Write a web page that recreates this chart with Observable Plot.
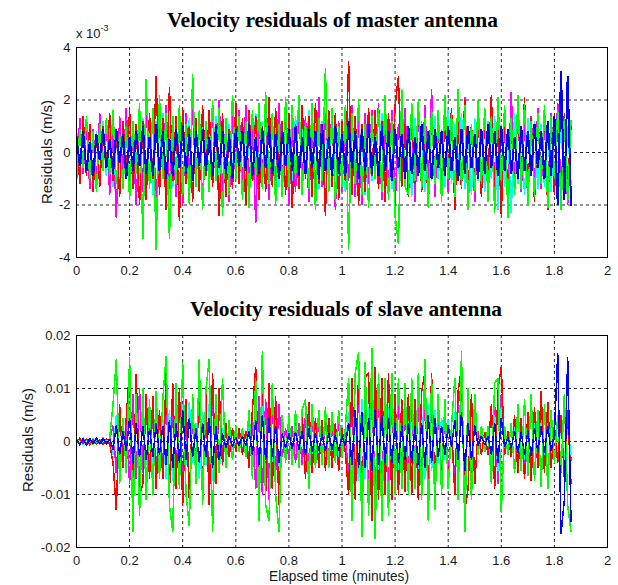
<!DOCTYPE html>
<html>
<head>
<meta charset="utf-8">
<script src="https://cdn.jsdelivr.net/npm/d3@7"></script>
<script src="https://cdn.jsdelivr.net/npm/@observablehq/plot@0.6"></script>
<style>
  html, body { margin: 0; padding: 0; background: #fff; }
  #root { position: relative; width: 618px; height: 585px; overflow: hidden; background: #fff; }
  #root > svg { position: absolute; left: 0; }
  #overlay { position: absolute; left: 0; top: 0; pointer-events: none; }
</style>
</head>
<body>
<div id="root"></div>
<script>
// ---------------- DATA ----------------
// Samples are spaced uniformly in time (minutes).
const sampleStep = 0.0125;

// Master antenna residuals, units of 1e-4 m/s (plotted in units of 1e-3 m/s)
const masterMagenta = [
  -10,13,-8,11,-14,9,-12,15,-7,12,
  -16,10,-25,14,-9,17,-13,8,-20,12,
  -15,19,-11,16,-22,13,-9,18,-14,10,
  -17,12,-20,15,-10,18,-13,16,-21,9,
  -14,17,-11,20,-16,12,-19,14,-10,16,
  -13,18,-15,11,-27,14,-10,17,-18,12,
  -11,19,-14,16,-20,10,-15,18,-12,14,
  -19,11,-16,21,-13,15,-10,17,-22,12,
  -15,14,-11,18,-17,13,-20,15,-12,16,
  -10,19,-18,12,-14,16,-21,11,-13,17,
  -16,13,-19,15,-11,18,-14,24,-17,12,
  -13,20,-15,11,-18,14,-12,21,-16,10,
  -19,15,-11,17,-14,22,-13,16,-20,12,
  -16,23,-12,18,-15,11,-19,14,-13,17,
  -14,12,-18,15,-11,19,-16,13,-20,11
];
const masterCyan = [
  9,-11,13,-7,10,-14,8,-10,12,-9,
  11,-13,7,-15,10,-9,14,-12,8,-11,
  13,-10,9,-16,12,-8,15,-11,10,-13,
  8,-14,11,-9,13,-17,10,-12,16,-8,
  12,-10,14,-13,9,-15,11,-8,13,-12,
  10,-16,8,-11,15,-9,12,-14,17,-10,
  9,-13,11,-15,8,-12,14,-10,13,-9,
  16,-11,10,-14,12,-8,15,-13,9,-12,
  11,-15,13,-9,10,-12,8,-16,14,-11,
  12,-10,15,-13,9,-14,11,-8,16,-12,
  10,-17,13,-9,12,-15,8,-11,14,-10,
  9,-13,16,-12,11,-8,15,-14,10,-16,
  13,-11,9,-15,12,-10,14,-22,11,-13,
  8,-23,15,-12,10,-16,13,-9,12,-14,
  11,-13,9,-15,14,-10,12,-17,10,-12
];
const masterRed = [
  8,-12,14,-9,11,-15,7,-13,10,-6,
  15,-11,9,-17,12,-8,16,-14,11,-20,
  12,-18,15,-10,29,-16,13,-22,25,-11,
  14,-26,17,-12,10,-19,13,-15,18,-9,
  16,-13,11,-24,15,-17,9,-14,19,-12,
  13,-20,16,-11,14,-18,10,-15,21,-13,
  17,-9,12,-16,15,-21,11,-14,18,-10,
  14,-17,19,-12,10,-24,16,-13,15,-18,
  12,-11,35,-16,14,-20,11,-15,17,-9,
  16,-14,12,-19,15,-10,18,29,-13,11,
  -17,14,-12,19,-15,10,-21,16,-11,13,
  -18,15,-9,17,-22,12,-14,20,-16,11,
  -13,19,-17,14,-10,22,-15,12,-24,16,
  -20,11,-14,18,-12,21,-17,13,-19,15,
  -11,17,-22,14,-16,12,-20,15,-13,10
];
const masterGreen = [
  -12,9,-6,14,-10,8,-15,11,-7,13,
  -9,16,-12,7,-14,10,-18,12,-8,19,
  -33,28,-14,17,-37,22,-10,15,-33,14,
  -12,18,-16,11,-20,30,-13,16,-22,12,
  -15,20,-11,17,-24,13,-16,22,-10,14,
  -18,12,-21,16,-9,19,-14,23,-12,15,
  -20,11,-17,21,-13,18,-10,22,-16,12,
  -14,19,-22,13,-11,32,-15,17,-19,10,
  -13,18,-37,15,-12,20,-16,11,-21,14,
  -10,17,-15,22,-18,12,-24,-35,24,-13,
  -16,19,-11,20,-14,13,-21,17,-12,16,
  -19,22,-10,15,-17,24,-13,18,-22,11,
  -15,20,-12,17,-19,14,-23,21,-11,18,
  -25,13,-16,22,-14,19,-20,12,-17,15,
  -12,18,-21,14,-10,16,-22,13,-19,12
];
const masterBlue = [
  6,-5,8,-7,4,-9,7,-3,9,-6,
  5,-8,9,-4,7,-10,6,-7,8,-5,
  10,-8,6,-9,11,-7,8,-10,5,-9,
  9,-6,10,-8,7,-11,8,-5,9,-7,
  6,-9,10,-6,8,-8,7,-10,9,-5,
  8,-7,11,-9,6,-8,9,-6,10,-8,
  7,-10,8,-5,9,-7,10,-9,6,-8,
  9,-6,8,-10,11,-7,6,-9,10,-8,
  7,-9,12,-6,8,-10,9,-7,11,-8,
  6,-9,10,-7,8,-11,9,-6,7,-10,
  10,-8,6,-9,11,-7,8,-10,9,-6,
  8,-9,10,-7,6,-11,9,-8,10,-6,
  7,-10,9,-8,11,-6,8,-9,10,-7,
  9,-8,6,-10,10,-7,8,-9,11,-6,
  8,-10,12,-9,14,-20,31,-18,29,-20
];

// Slave antenna residuals, units of 1e-4 m/s
const slaveMagenta = [
  3,-5,4,-3,5,-4,6,-3,4,-5,
  4,30,-60,50,-30,35,-80,90,-70,100,
  -60,70,-50,60,-65,45,-50,90,-80,70,
  -70,80,-90,60,-100,55,-50,90,-95,60,
  -80,90,-60,70,-30,25,-20,18,-15,18,
  -20,15,-40,45,-90,85,-100,80,-110,70,
  -60,70,-30,25,-35,30,-40,35,-45,50,
  -55,45,-35,40,-30,40,-35,35,-30,40,
  -20,15,-70,80,-90,100,-110,95,-100,110,
  -115,90,-95,80,-90,85,-70,75,-60,70,
  -65,75,-60,80,-70,100,-95,80,-85,60,
  -65,55,-60,20,-75,70,110,-110,65,-70,
  60,-15,18,-12,20,-55,70,-80,90,-20,
  15,-25,40,-45,35,-50,40,-60,50,-40,
  55,-45,60,-40,25,-30,40,-50,45,-35
];
const slaveCyan = [
  -3,4,-5,3,-4,5,-3,4,-5,3,
  -4,-25,50,-40,25,-30,60,-70,55,-60,
  50,-45,40,-50,45,-35,40,-70,60,-75,
  55,-60,70,-45,75,-40,35,-70,55,-45,
  70,-75,40,-55,25,-20,15,-15,12,-10,
  15,-12,30,-35,65,-70,75,-55,70,-50,
  45,-75,25,-20,25,-25,30,-25,30,-40,
  40,-35,25,-30,20,-30,25,-25,20,-30,
  15,-12,55,-70,60,-75,80,-70,65,-80,
  80,-60,70,-55,65,-60,45,-55,40,-50,
  45,-55,40,-60,50,-70,70,-55,60,-40,
  45,-35,40,-15,55,-50,75,-75,45,-50,
  40,-12,15,-10,15,-35,50,-55,65,-15,
  12,-18,28,-32,25,-35,30,-40,35,-28,
  40,-32,40,-28,18,-20,30,-35,30,-25
];
const slaveRed = [
  -4,6,-3,5,-6,4,-5,3,-6,5,
  -5,-40,-130,70,-50,45,140,-130,128,-100,
  -80,90,-70,85,-90,60,-70,130,-100,110,
  -90,100,-120,80,-110,70,-60,110,-100,90,
  -120,130,-80,100,-45,35,-30,25,-20,25,
  -25,20,-50,60,140,-120,130,-100,110,-90,
  85,-120,40,-35,45,-40,50,-45,55,-70,
  75,-60,45,-50,40,-55,45,-50,35,-55,
  25,-20,-100,120,-110,130,-140,120,130,-150,
  140,-110,120,-100,130,-110,90,-100,80,-95,
  90,-100,80,-110,95,130,-120,130,-100,80,
  -85,70,-80,25,-100,95,140,-130,-90,90,
  -80,20,-25,18,-25,70,-90,100,140,-25,
  20,-30,50,-60,45,-70,55,-75,65,-50,
  95,-60,75,-50,30,-40,50,-70,60,-80
];
const slaveGreen = [
  5,-4,6,-5,3,-6,4,-5,7,-3,
  6,70,155,-80,45,-60,160,-170,90,-140,
  100,-110,80,-100,95,-70,80,162,-120,-170,
  110,-90,150,-100,-160,90,-80,155,-120,100,
  155,-170,90,-60,120,-50,40,-35,30,-20,
  25,-30,60,-70,120,-150,170,-120,-150,110,
  -100,-170,50,-40,50,-45,60,-50,60,80,
  -90,70,-50,60,-45,65,-50,55,-40,60,
  -30,25,120,-150,130,168,-180,150,-140,177,
  -183,130,-150,120,-140,130,-100,120,-90,110,
  -100,120,-90,130,-110,156,-150,120,-130,90,
  -100,80,-90,30,120,-110,170,-170,100,-110,
  90,-25,30,-20,30,-80,110,120,-135,30,
  -25,35,-60,70,-55,80,-65,90,-75,60,
  -85,70,-90,60,-40,50,-60,90,-120,-170
];
const slaveBlue = [
  4,-6,5,-7,6,-4,7,-5,6,-5,
  5,-15,30,-25,20,-18,45,-40,35,-30,
  30,-35,25,-30,35,-25,30,-45,40,-50,
  35,-40,60,-35,45,-30,25,-40,35,-30,
  45,-50,30,-35,15,-12,10,-10,8,-8,
  10,-8,20,-25,40,-45,50,-35,45,-30,
  30,-40,15,-12,15,-14,18,-15,20,-25,
  25,-20,15,-18,14,-18,16,-15,12,-18,
  10,-8,35,-45,60,-50,55,-50,45,-55,
  60,-45,50,-40,45,-40,35,-40,30,-35,
  35,-40,30,-45,35,-50,50,-40,45,-30,
  30,-25,30,-10,40,-35,55,-55,35,-35,
  30,-8,10,-7,10,-25,35,-40,45,-10,
  8,-12,20,-22,18,-25,20,-28,25,-20,
  30,-22,30,-18,15,166,-175,-110,160,-150
];

// Axis ticks and labels
const xTicks = [0, 0.2, 0.4, 0.6, 0.8, 1, 1.2, 1.4, 1.6, 1.8, 2];
const xTickLabels = ["0","0.2","0.4","0.6","0.8","1","1.2","1.4","1.6","1.8","2"];
const masterYTicks = [-4, -2, 0, 2, 4];           // in units of 1e-3 m/s
const masterYTickLabels = ["-4","-2","0","2","4"];
const slaveYTicks = [-0.02, -0.01, 0, 0.01, 0.02]; // m/s
const slaveYTickLabels = ["-0.02","-0.01","0","0.01","0.02"];

const titles = ["Velocity residuals of master antenna", "Velocity residuals of slave antenna"];
const yLabel = "Residuals (m/s)";
const xLabel = "Elapsed time (minutes)";

// ---------------- DRAW ----------------
(function () {
  const seriesColors = { magenta: "#ff00ff", cyan: "#00ffff", red: "#ff0000", green: "#00ff00", blue: "#0000ff" };

  function toTable(values, factor) {
    return values.map((v, i) => ({ t: i * sampleStep, v: v * factor }));
  }

  function panel({ series, factor, yDomain, yTicks, yTickLabels, height, marginTop, marginBottom }) {
    const fmtX = d => xTickLabels[xTicks.indexOf(d)];
    const fmtY = d => yTickLabels[yTicks.indexOf(d)];
    const grid = { stroke: "#000", strokeWidth: 1, strokeDasharray: "3,3", strokeOpacity: 0.85 };
    return Plot.plot({
      width: 618,
      height,
      marginTop,
      marginBottom,
      marginLeft: 76,
      marginRight: 11,
      style: { fontFamily: "'Liberation Sans', Arial, sans-serif", fontSize: "13px", color: "#1a1a1a", background: "transparent", overflow: "visible" },
      x: { domain: [0, 2], label: null },
      y: { domain: yDomain, label: null },
      marks: [
        Plot.ruleX(xTicks.slice(1, -1), grid),
        Plot.ruleY(yTicks.slice(1, -1), grid),
        ...series.map(s => Plot.line(toTable(s.values, factor), {
          x: "t", y: "v", stroke: seriesColors[s.color],
          strokeWidth: s.width,
          strokeLinejoin: "miter", strokeMiterlimit: 2,
          clip: true, shapeRendering: "crispEdges"
        })),
        Plot.axisX(xTicks, { tickSize: 0, tickPadding: 8, tickFormat: fmtX, label: null }),
        Plot.axisY(yTicks, { tickSize: 0, tickPadding: 6, tickFormat: fmtY, label: null }),
        Plot.frame({ stroke: "#000", strokeWidth: 1 })
      ]
    });
  }

  const root = document.getElementById("root");

  const masterPlot = panel({
    series: [
      { color: "magenta", values: masterMagenta, width: 1.5 },
      { color: "cyan", values: masterCyan, width: 1.5 },
      { color: "red", values: masterRed, width: 1.5 },
      { color: "green", values: masterGreen, width: 1.5 },
      { color: "blue", values: masterBlue, width: 2 }
    ],
    factor: 0.1,
    yDomain: [-4, 4],
    yTicks: masterYTicks,
    yTickLabels: masterYTickLabels,
    height: 300,
    marginTop: 47,
    marginBottom: 43
  });
  masterPlot.style.top = "0px";
  root.appendChild(masterPlot);

  const slavePlot = panel({
    series: [
      { color: "magenta", values: slaveMagenta, width: 1.5 },
      { color: "cyan", values: slaveCyan, width: 1.5 },
      { color: "red", values: slaveRed, width: 1.5 },
      { color: "green", values: slaveGreen, width: 1.5 },
      { color: "blue", values: slaveBlue, width: 1.5 }
    ],
    factor: 0.0001,
    yDomain: [-0.02, 0.02],
    yTicks: slaveYTicks,
    yTickLabels: slaveYTickLabels,
    height: 295,
    marginTop: 45,
    marginBottom: 38
  });
  slavePlot.style.top = "290px";
  root.appendChild(slavePlot);

  // Text overlay: titles, axis labels, exponent
  const svg = d3.select(root).append("svg")
    .attr("id", "overlay").attr("width", 618).attr("height", 585)
    .style("font-family", "'Liberation Sans', Arial, sans-serif");

  svg.append("text").text(titles[0])
    .attr("x", 167).attr("y", 27)
    .attr("textLength", 331).attr("lengthAdjust", "spacingAndGlyphs")
    .style("font-family", "'Liberation Serif', 'Times New Roman', serif")
    .style("font-weight", "bold").style("font-size", "22px").attr("fill", "#000");

  svg.append("text").text(titles[1])
    .attr("x", 190).attr("y", 316)
    .attr("textLength", 312).attr("lengthAdjust", "spacingAndGlyphs")
    .style("font-family", "'Liberation Serif', 'Times New Roman', serif")
    .style("font-weight", "bold").style("font-size", "22px").attr("fill", "#000");

  const expo = svg.append("text").attr("x", 76).attr("y", 38).attr("fill", "#1a1a1a").style("font-size", "13px");
  expo.append("tspan").text("x 10");
  expo.append("tspan").text("-3").attr("dy", -7).style("font-size", "9px");

  svg.append("text").text(yLabel)
    .attr("transform", "translate(52,152) rotate(-90)")
    .attr("text-anchor", "middle").style("font-size", "15px").attr("fill", "#1a1a1a");

  svg.append("text").text(yLabel)
    .attr("transform", "translate(33,440) rotate(-90)")
    .attr("text-anchor", "middle").style("font-size", "15px").attr("fill", "#1a1a1a");

  svg.append("text").text(xLabel)
    .attr("x", 269).attr("y", 581)
    .attr("textLength", 140).attr("lengthAdjust", "spacingAndGlyphs")
    .style("font-size", "15px").attr("fill", "#1a1a1a");
})();
</script>
</body>
</html>
